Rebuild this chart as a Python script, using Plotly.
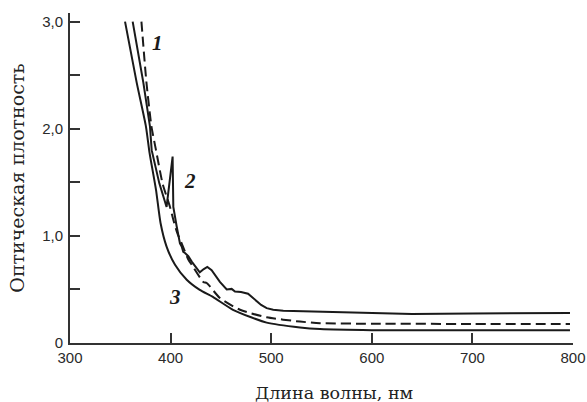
import plotly.graph_objects as go

# Curve 1 (dashed)
x1 = [371, 376, 381, 385.5, 392, 399.4, 402.7, 406.7, 411, 417.6, 421, 432.5, 435.9, 449, 469, 495.5, 528.6, 548.5, 600, 700, 797]
y1 = [3.0, 2.43, 2.02, 1.80, 1.49, 1.27, 1.15, 1.025, 0.93, 0.78, 0.73, 0.57, 0.56, 0.42, 0.31, 0.24, 0.20, 0.185, 0.18, 0.178, 0.178]

# Curve 2 (solid, with peaks)
x2 = [362.3, 372.9, 379.5, 381.2, 388.8, 396, 402, 402.7, 406, 409.3, 411, 412.6, 414.3, 417.6, 421, 427.5, 429, 433, 436.5, 440.8, 449, 455.8, 460.7, 464, 470, 477, 481, 485.6, 490, 495.5, 502, 512, 548.5, 600, 640, 700, 797]
y2 = [3.0, 2.43, 2.02, 1.80, 1.49, 1.27, 1.74, 1.27, 1.09, 0.93, 0.90, 0.85, 0.84, 0.81, 0.76, 0.67, 0.66, 0.69, 0.71, 0.68, 0.57, 0.50, 0.505, 0.48, 0.475, 0.46, 0.43, 0.39, 0.355, 0.325, 0.31, 0.30, 0.29, 0.275, 0.27, 0.275, 0.28]

# Curve 3 (solid, lowest)
x3 = [354.7, 366.3, 375.5, 379, 385.5, 390, 396, 404.4, 416, 429, 442, 462, 480, 495.5, 528.6, 548.5, 600, 700, 797]
y3 = [3.0, 2.43, 2.02, 1.78, 1.43, 1.12, 0.90, 0.73, 0.59, 0.495, 0.43, 0.31, 0.24, 0.19, 0.145, 0.13, 0.12, 0.12, 0.12]

labels = ["1", "2", "3"]
label_x = [386.5, 419.5, 404.5]
label_y = [2.80, 1.51, 0.43]

ytick_vals = [0, 0.5, 1.0, 1.5, 2.0, 2.5, 3.0]
ytick_text = ["0", "", "1,0", "", "2,0", "", "3,0"]
xtick_vals = [300, 400, 500, 600, 700, 800]

x_title = "Длина волны, нм"
y_title = "Оптическая плотность"

fig = go.Figure()
line_col = "#1a1a1a"
fig.add_trace(go.Scatter(x=x3, y=y3, mode="lines", line=dict(color=line_col, width=2, shape="spline", smoothing=0.6), showlegend=False))
fig.add_trace(go.Scatter(x=x2, y=y2, mode="lines", line=dict(color=line_col, width=2), showlegend=False))
fig.add_trace(go.Scatter(x=x1, y=y1, mode="lines", line=dict(color=line_col, width=2, dash="10px,5px", shape="spline", smoothing=0.6), showlegend=False))

for t, lx, ly in zip(labels, label_x, label_y):
    fig.add_annotation(x=lx, y=ly, text="<b><i>" + t + "</i></b>", showarrow=False,
                       font=dict(family="Liberation Serif", size=21, color=line_col))

fig.add_annotation(xref="paper", yref="paper", x=0.525, y=-0.152, yanchor="middle",
                   text=x_title, showarrow=False,
                   font=dict(family="DejaVu Serif", size=17.5, color="#222"))

fig.update_layout(
    width=587, height=402,
    margin=dict(l=70, r=14, t=13, b=59),
    plot_bgcolor="white", paper_bgcolor="white",
    xaxis=dict(range=[300, 800], tickvals=xtick_vals, ticks="inside", ticklen=10, tickwidth=2,
               tickcolor="#333", showline=True, linecolor="#333", linewidth=2, showgrid=False,
               zeroline=False, automargin=False, tickfont=dict(family="Liberation Sans", size=15, color="#2a2a2a")),
    yaxis=dict(range=[0, 3.08], tickvals=ytick_vals, ticktext=ytick_text, ticks="inside", ticklen=10,
               tickwidth=2, tickcolor="#333", showline=True, linecolor="#333", linewidth=2, showgrid=False,
               zeroline=False, automargin=False, ticklabelstandoff=2, tickfont=dict(family="Liberation Sans", size=15, color="#2a2a2a"),
               title=dict(text=y_title, font=dict(family="DejaVu Serif", size=19, color="#222"), standoff=12)),
)

fig.write_html("out.html")
